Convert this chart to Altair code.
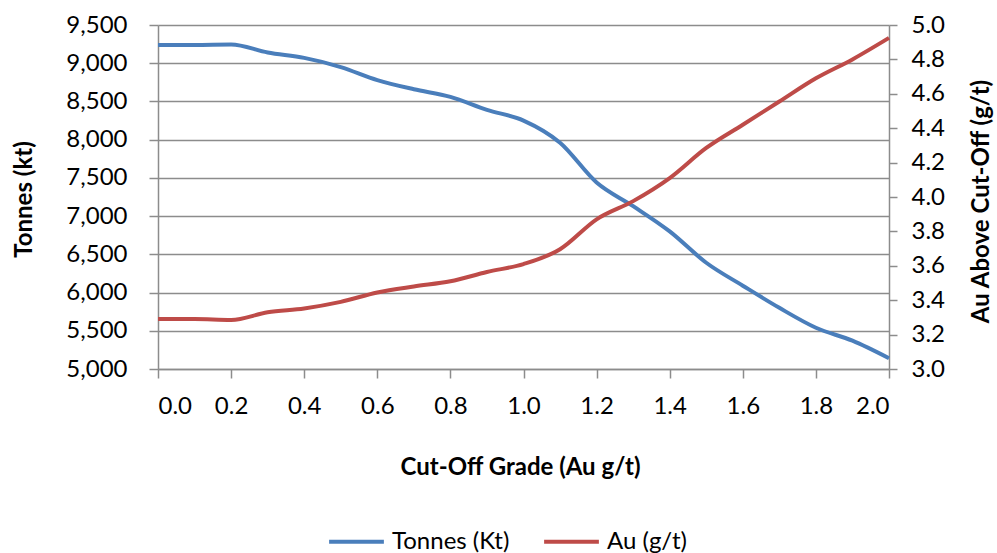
import altair as alt
import pandas as pd

grade = [0.0, 0.1, 0.2, 0.3, 0.4, 0.5, 0.6, 0.7, 0.8, 0.9, 1.0,
         1.1, 1.2, 1.3, 1.4, 1.5, 1.6, 1.7, 1.8, 1.9, 2.0]
tonnes = [9240, 9240, 9245, 9140, 9070, 8950, 8780, 8660, 8560, 8390, 8250,
          7960, 7440, 7130, 6800, 6390, 6090, 5800, 5540, 5370, 5140]
au = [3.29, 3.29, 3.285, 3.33, 3.352, 3.39, 3.445, 3.48, 3.51, 3.564, 3.61,
      3.696, 3.87, 3.976, 4.11, 4.285, 4.42, 4.555, 4.69, 4.80, 4.925]
series_names = ["Tonnes (Kt)", "Au (g/t)"]
series_colors = ["#4a7ebb", "#be4b48"]

df_t = pd.DataFrame({"grade": grade, "value": tonnes, "series": series_names[0]})
df_a = pd.DataFrame({"grade": grade, "value": au, "series": series_names[1]})

FONT = "Lato"
GRID = "#8c8c8c"
LBL = 24
TTL = 24

x_enc = alt.X("grade:Q",
              scale=alt.Scale(domain=[0, 2], nice=False),
              axis=alt.Axis(values=[round(i * 0.2, 1) for i in range(11)],
                            format=".1f", title="Cut-Off Grade (Au g/t)",
                            grid=False, domainColor=GRID, tickColor=GRID,
                            tickSize=9, labelPadding=16, labelFontSize=LBL,
                            titleFontSize=TTL, titleFontWeight="bold",
                            titleX=362, titleY=98, titleBaseline="middle",
                            titleAlign="center"))

color_enc = alt.Color("series:N",
                      scale=alt.Scale(domain=series_names, range=series_colors),
                      legend=alt.Legend(title=None, orient="none", direction="horizontal",
                                        legendX=169, legendY=487, padding=0,
                                        symbolType="stroke", symbolStrokeWidth=4,
                                        symbolSize=3000, labelFontSize=LBL,
                                        columnPadding=26, labelOffset=6))

left = alt.Chart(df_t).mark_line(strokeWidth=4, interpolate="monotone").encode(
    x=x_enc,
    y=alt.Y("value:Q",
            scale=alt.Scale(domain=[5000, 9500], nice=False, zero=False),
            axis=alt.Axis(values=list(range(5000, 9501, 500)), format=",.0f",
                          title="Tonnes (kt)", grid=True, gridColor=GRID,
                          gridWidth=1.5, domainColor=GRID, tickColor=GRID,
                          tickSize=9, labelFontSize=LBL, labelPadding=22,
                          titleFontSize=TTL, titleFontWeight="bold",
                          titleX=-134, titleY=174, titleAngle=270,
                          titleBaseline="middle", titleAlign="center")),
    color=color_enc,
)

right = alt.Chart(df_a).mark_line(strokeWidth=4, interpolate="monotone").encode(
    x=x_enc,
    y=alt.Y("value:Q",
            scale=alt.Scale(domain=[3.0, 5.0], nice=False, zero=False),
            axis=alt.Axis(orient="right", values=[round(3.0 + i * 0.2, 1) for i in range(11)],
                          format=".1f", title="Au Above Cut-Off (g/t)", grid=False,
                          domainColor=GRID, tickColor=GRID, tickSize=8,
                          labelFontSize=LBL, labelPadding=14,
                          titleFontSize=TTL, titleFontWeight="bold",
                          titleX=92, titleY=176, titleAngle=270,
                          titleBaseline="middle", titleAlign="center")),
    color=color_enc,
)

chart = alt.layer(left, right).resolve_scale(y="independent").properties(
    width=731, height=344,
    autosize=alt.AutoSizeParams(type="none"),
    padding={"left": 158, "top": 25, "right": 108, "bottom": 184},
).configure(font=FONT, background="white").configure_view(stroke=None).configure_axis(
    labelColor="#000000", titleColor="#000000", domainWidth=1.5, tickWidth=1.5
).configure_legend(labelColor="#000000")

chart.save("out.html", embed_options={"renderer": "svg", "actions": False})
